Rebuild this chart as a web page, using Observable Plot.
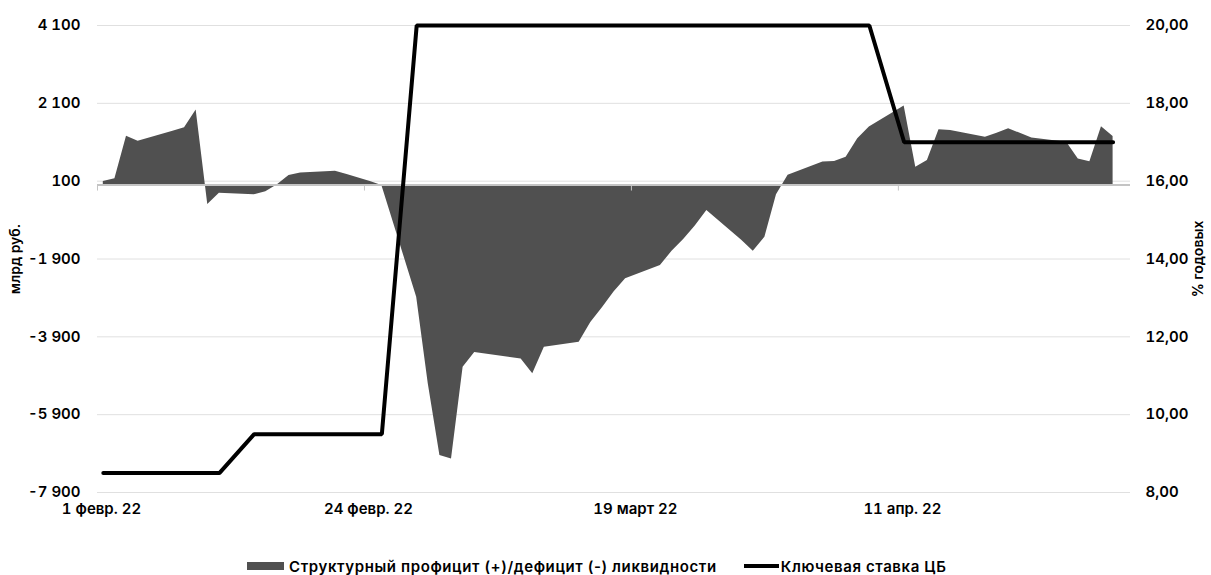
<!DOCTYPE html>
<html>
<head>
<meta charset="utf-8">
<script src="https://cdn.jsdelivr.net/npm/d3@7"></script>
<script src="https://cdn.jsdelivr.net/npm/@observablehq/plot@0.6"></script>
<style>
  html, body { margin: 0; padding: 0; background: #fff; }
  body { width: 1211px; font-family: Inter, "Open Sans", "DejaVu Sans", sans-serif; }
  #legend { display: flex; align-items: center; padding-left: 247px; padding-top: 26px; height: 20px;
            font-size: 15px; font-weight: 600; letter-spacing: 0.6px; color: #000; }
  .sw-area { width: 37px; height: 8px; background: #505050; margin-right: 5px; }
  .sw-line { width: 35px; height: 4px; background: #000; margin-right: 2px; margin-left: 27px; }
</style>
</head>
<body>
<div id="chart"></div>
<div id="legend"></div>
<script>
// ---- data ----
const dates = [
  "2022-02-01","2022-02-02","2022-02-03","2022-02-04","2022-02-07","2022-02-08","2022-02-09","2022-02-10","2022-02-11",
  "2022-02-14","2022-02-15","2022-02-16","2022-02-17","2022-02-18","2022-02-21","2022-02-22","2022-02-24","2022-02-25",
  "2022-02-28",
  "2022-03-01","2022-03-02","2022-03-03","2022-03-04","2022-03-05","2022-03-09","2022-03-10","2022-03-11",
  "2022-03-14","2022-03-15","2022-03-16","2022-03-17","2022-03-18","2022-03-21","2022-03-22","2022-03-23","2022-03-24","2022-03-25",
  "2022-03-28","2022-03-29","2022-03-30","2022-03-31",
  "2022-04-01","2022-04-04","2022-04-05","2022-04-06","2022-04-07","2022-04-08",
  "2022-04-11","2022-04-12","2022-04-13","2022-04-14","2022-04-15",
  "2022-04-18","2022-04-19","2022-04-20","2022-04-21","2022-04-22",
  "2022-04-25","2022-04-26","2022-04-27","2022-04-28","2022-04-29"
];
const liquidity = [
  90, 160, 1255, 1126, 1380, 1470, 1930, -500, -210,
  -250, -170, 10, 245, 313, 355, 270, 90, -10,
  -2880,
  -5110, -6950, -7040, -4680, -4300, -4470, -4850, -4170,
  -4040, -3530, -3150, -2750, -2410, -2070, -1700, -1400, -1050, -655,
  -1420, -1700, -1340, -250,
  250, 590, 605, 715, 1190, 1490,
  2030, 460, 630, 1420, 1400,
  1230, 1330, 1445, 1330, 1210,
  1100, 670, 600, 1500, 1250
];
const keyRate = [
  8.5, 8.5, 8.5, 8.5, 8.5, 8.5, 8.5, 8.5, 8.5,
  9.5, 9.5, 9.5, 9.5, 9.5, 9.5, 9.5, 9.5, 9.5,
  20,
  20, 20, 20, 20, 20, 20, 20, 20,
  20, 20, 20, 20, 20, 20, 20, 20, 20, 20,
  20, 20, 20, 20,
  20, 20, 20, 20, 20, 20,
  17, 17, 17, 17, 17,
  17, 17, 17, 17, 17,
  17, 17, 17, 17, 17
];
const leftTicks = [-7900, -5900, -3900, -1900, 100, 2100, 4100];
const leftTickLabels = ["-7 900", "-5 900", "-3 900", "-1 900", "100", "2 100", "4 100"];
const rightTickLabels = ["8,00", "10,00", "12,00", "14,00", "16,00", "18,00", "20,00"];
const xTickDates = ["2022-02-01", "2022-02-24", "2022-03-19", "2022-04-11"];
const xTickLabels = ["1 февр. 22", "24 февр. 22", "19 март 22", "11 апр. 22"];
const xDomain = ["2022-02-01", "2022-05-01"];
const seriesNames = ["Структурный профицит (+)/дефицит (-) ликвидности", "Ключевая ставка ЦБ"];
const axisTitles = ["млрд руб.", "% годовых"];

// ---- build ----
const parse = d3.utcParse("%Y-%m-%d");
const data = dates.map((d, i) => ({date: parse(d), value: liquidity[i], rate: keyRate[i]}));
const xTicks = xTickDates.map(parse);
const midDay = d => d3.utcHour.offset(d.date, 12);
// right axis (% годовых) is aligned with left axis: 16,00 <-> 100, 2 pts per 2000
const rateToLeft = r => (r - 16) * 1000 + 100;
const font = "Inter, 'Open Sans', 'DejaVu Sans', sans-serif";

const chart = Plot.plot({
  width: 1211,
  height: 530,
  marginLeft: 97,
  marginRight: 81,
  marginTop: 25,
  marginBottom: 38,
  x: {type: "utc", domain: xDomain.map(parse), label: null},
  y: {domain: [leftTicks[0], leftTicks[leftTicks.length - 1]], label: null},
  style: {fontFamily: font, fontSize: "15px", fontWeight: 600, color: "#000", background: "#fff"},
  marks: [
    Plot.gridY(leftTicks, {stroke: "#e0e0e0", strokeOpacity: 1, strokeWidth: 1}),
    Plot.areaY(data, {x: midDay, y1: 0, y2: "value", fill: "#505050", curve: "linear"}),
    Plot.ruleY([0], {stroke: "#c4c4c4", strokeWidth: 2}),
    Plot.ruleX(xTicks, {x: d => d, y1: 0, y2: 0, insetBottom: -6, stroke: "#c4c4c4", strokeWidth: 1}),
    Plot.lineY(data, {x: midDay, y: d => rateToLeft(d.rate), stroke: "#000", strokeWidth: 4, strokeLinejoin: "miter", curve: "linear"}),
    Plot.axisY(leftTicks, {anchor: "left", tickSize: 0, tickPadding: 17, label: null,
      tickFormat: d => leftTickLabels[leftTicks.indexOf(d)]}),
    Plot.axisY(leftTicks, {anchor: "right", tickSize: 0, tickPadding: 15, label: null,
      tickFormat: d => rightTickLabels[leftTicks.indexOf(d)]}),
    Plot.axisX(xTicks, {anchor: "bottom", tickSize: 0, tickPadding: 11, label: null, dx: 4,
      tickFormat: d => xTickLabels[xTicks.findIndex(t => +t === +d)]}),
    Plot.text([axisTitles[0]], {frameAnchor: "left", textAnchor: "middle", dx: -82, rotate: -90, fontSize: 14, fontWeight: 600, fill: "#000"}),
    Plot.text([axisTitles[1]], {frameAnchor: "right", textAnchor: "middle", dx: 68, rotate: -90, fontSize: 14, fontWeight: 600, fill: "#000"})
  ]
});
document.getElementById("chart").appendChild(chart);

const legend = document.getElementById("legend");
legend.innerHTML =
  `<span class="sw-area"></span><span>${seriesNames[0]}</span>` +
  `<span class="sw-line"></span><span>${seriesNames[1]}</span>`;
</script>
</body>
</html>
